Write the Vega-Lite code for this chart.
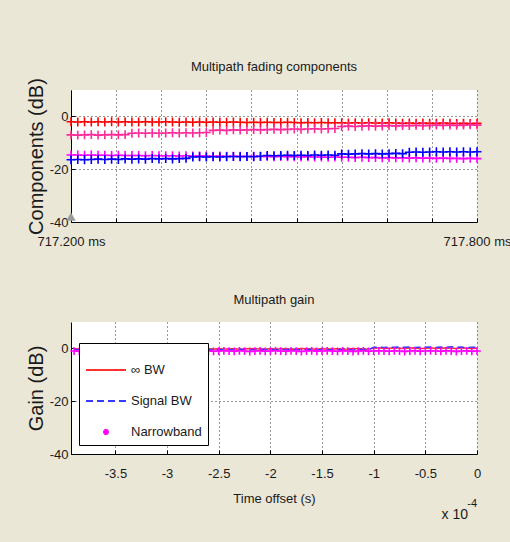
{
  "$schema": "https://vega.github.io/schema/vega-lite/v6.json",
  "background": "#EBE7D7",
  "autosize": {"type": "pad"},
  "padding": {"left": 26, "top": 60, "right": 0, "bottom": 24},
  "config": {
    "font": "Liberation Sans, Arial, sans-serif",
    "view": {"stroke": null, "fill": "white"},
    "axis": {
      "labelFont": "Liberation Sans, Arial, sans-serif",
      "labelFontSize": 13, "labelColor": "#1a1a1a",
      "titleFont": "Liberation Sans, Arial, sans-serif",
      "titleFontSize": 13, "titleFontWeight": "normal", "titleColor": "#1a1a1a",
      "domainColor": "#000", "domainWidth": 1, "tickColor": "#000", "tickSize": -4,
      "gridColor": "#000", "gridDash": [1, 3], "gridOpacity": 0.8,
      "labelOverlap": false, "labelBound": false, "labelFlush": false
    },
    "title": {"font": "Liberation Sans, Arial, sans-serif", "fontSize": 13, "fontWeight": "normal", "color": "#1a1a1a", "frame": "group"},
    "legend": {"labelFont": "Liberation Sans, Arial, sans-serif", "labelFontSize": 13, "labelColor": "#1a1a1a"}
  },
  "datasets": {
    "top": [
      {"t": 717.2, "red": -2.0, "m1": -7.0, "m2": -14.6, "blue": -16.4},
      {"t": 717.21, "red": -2.1, "m1": -7.1, "m2": -14.6, "blue": -16.3},
      {"t": 717.22, "red": -2.0, "m1": -7.0, "m2": -14.7, "blue": -16.4},
      {"t": 717.23, "red": -2.1, "m1": -6.9, "m2": -14.6, "blue": -16.3},
      {"t": 717.24, "red": -2.0, "m1": -7.1, "m2": -14.7, "blue": -16.2},
      {"t": 717.25, "red": -2.1, "m1": -7.0, "m2": -14.7, "blue": -16.3},
      {"t": 717.26, "red": -2.0, "m1": -6.9, "m2": -14.8, "blue": -16.2},
      {"t": 717.27, "red": -2.1, "m1": -7.0, "m2": -14.7, "blue": -16.3},
      {"t": 717.28, "red": -2.0, "m1": -6.9, "m2": -14.8, "blue": -16.1},
      {"t": 717.29, "red": -2.1, "m1": -6.4, "m2": -14.8, "blue": -16.2},
      {"t": 717.3, "red": -2.1, "m1": -6.3, "m2": -14.8, "blue": -16.1},
      {"t": 717.31, "red": -2.0, "m1": -6.4, "m2": -14.9, "blue": -16.2},
      {"t": 717.32, "red": -2.1, "m1": -6.3, "m2": -14.8, "blue": -16.0},
      {"t": 717.33, "red": -2.1, "m1": -6.4, "m2": -14.9, "blue": -16.1},
      {"t": 717.34, "red": -2.0, "m1": -6.3, "m2": -14.9, "blue": -16.0},
      {"t": 717.35, "red": -2.1, "m1": -6.2, "m2": -14.9, "blue": -16.1},
      {"t": 717.36, "red": -2.2, "m1": -6.3, "m2": -15.0, "blue": -16.0},
      {"t": 717.37, "red": -2.1, "m1": -6.2, "m2": -14.9, "blue": -15.9},
      {"t": 717.38, "red": -2.2, "m1": -6.3, "m2": -15.0, "blue": -15.4},
      {"t": 717.39, "red": -2.1, "m1": -6.2, "m2": -15.0, "blue": -15.3},
      {"t": 717.4, "red": -2.2, "m1": -6.1, "m2": -15.0, "blue": -15.4},
      {"t": 717.41, "red": -2.1, "m1": -5.3, "m2": -15.1, "blue": -15.3},
      {"t": 717.42, "red": -2.2, "m1": -5.2, "m2": -15.0, "blue": -15.4},
      {"t": 717.43, "red": -2.2, "m1": -5.3, "m2": -15.1, "blue": -15.3},
      {"t": 717.44, "red": -2.1, "m1": -5.1, "m2": -15.1, "blue": -15.2},
      {"t": 717.45, "red": -2.2, "m1": -5.2, "m2": -15.1, "blue": -15.3},
      {"t": 717.46, "red": -2.3, "m1": -5.1, "m2": -15.2, "blue": -15.2},
      {"t": 717.47, "red": -2.2, "m1": -5.0, "m2": -15.1, "blue": -15.3},
      {"t": 717.48, "red": -2.3, "m1": -5.1, "m2": -15.2, "blue": -15.1},
      {"t": 717.49, "red": -2.2, "m1": -5.0, "m2": -15.2, "blue": -14.8},
      {"t": 717.5, "red": -2.3, "m1": -4.9, "m2": -15.3, "blue": -14.9},
      {"t": 717.51, "red": -2.3, "m1": -5.0, "m2": -15.2, "blue": -14.8},
      {"t": 717.52, "red": -2.2, "m1": -4.9, "m2": -15.3, "blue": -14.7},
      {"t": 717.53, "red": -2.3, "m1": -4.8, "m2": -15.3, "blue": -14.8},
      {"t": 717.54, "red": -2.4, "m1": -4.9, "m2": -15.4, "blue": -14.7},
      {"t": 717.55, "red": -2.3, "m1": -4.8, "m2": -15.3, "blue": -14.8},
      {"t": 717.56, "red": -2.4, "m1": -4.7, "m2": -15.4, "blue": -14.6},
      {"t": 717.57, "red": -2.3, "m1": -4.8, "m2": -15.4, "blue": -14.7},
      {"t": 717.58, "red": -2.4, "m1": -4.7, "m2": -15.5, "blue": -14.6},
      {"t": 717.59, "red": -2.4, "m1": -4.6, "m2": -15.4, "blue": -14.7},
      {"t": 717.6, "red": -2.4, "m1": -3.8, "m2": -15.5, "blue": -14.2},
      {"t": 717.61, "red": -2.5, "m1": -3.7, "m2": -15.5, "blue": -14.3},
      {"t": 717.62, "red": -2.4, "m1": -3.8, "m2": -15.6, "blue": -14.2},
      {"t": 717.63, "red": -2.5, "m1": -3.7, "m2": -15.5, "blue": -14.1},
      {"t": 717.64, "red": -2.4, "m1": -3.6, "m2": -15.6, "blue": -14.2},
      {"t": 717.65, "red": -2.5, "m1": -3.7, "m2": -15.6, "blue": -14.1},
      {"t": 717.66, "red": -2.5, "m1": -3.6, "m2": -15.7, "blue": -14.2},
      {"t": 717.67, "red": -2.4, "m1": -3.5, "m2": -15.6, "blue": -14.1},
      {"t": 717.68, "red": -2.5, "m1": -3.6, "m2": -15.7, "blue": -14.0},
      {"t": 717.69, "red": -2.6, "m1": -3.5, "m2": -15.7, "blue": -14.1},
      {"t": 717.7, "red": -2.5, "m1": -3.5, "m2": -15.8, "blue": -13.6},
      {"t": 717.71, "red": -2.6, "m1": -3.4, "m2": -15.7, "blue": -13.5},
      {"t": 717.72, "red": -2.5, "m1": -3.5, "m2": -15.8, "blue": -13.6},
      {"t": 717.73, "red": -2.6, "m1": -3.4, "m2": -15.8, "blue": -13.5},
      {"t": 717.74, "red": -2.6, "m1": -3.3, "m2": -15.9, "blue": -13.4},
      {"t": 717.75, "red": -2.5, "m1": -3.4, "m2": -15.8, "blue": -13.5},
      {"t": 717.76, "red": -2.6, "m1": -3.3, "m2": -15.9, "blue": -13.4},
      {"t": 717.77, "red": -2.7, "m1": -3.4, "m2": -15.9, "blue": -13.5},
      {"t": 717.78, "red": -2.6, "m1": -3.3, "m2": -16.0, "blue": -13.4},
      {"t": 717.79, "red": -2.7, "m1": -3.2, "m2": -15.9, "blue": -13.5},
      {"t": 717.8, "red": -2.6, "m1": -3.3, "m2": -16.0, "blue": -13.4}
    ],
    "bottom": [
      {"x": -3.90, "∞ BW": -0.2, "Signal BW": -0.4, "Narrowband": -1.0},
      {"x": -3.85, "∞ BW": -0.1, "Signal BW": -0.5, "Narrowband": -1.1},
      {"x": -3.80, "∞ BW": -0.3, "Signal BW": -0.3, "Narrowband": -0.9},
      {"x": -3.75, "∞ BW": -0.2, "Signal BW": -0.4, "Narrowband": -1.0},
      {"x": -3.70, "∞ BW": 0.0, "Signal BW": -0.6, "Narrowband": -1.2},
      {"x": -3.65, "∞ BW": -0.1, "Signal BW": -0.4, "Narrowband": -1.0},
      {"x": -3.60, "∞ BW": -0.2, "Signal BW": -0.3, "Narrowband": -0.9},
      {"x": -3.55, "∞ BW": -0.3, "Signal BW": -0.5, "Narrowband": -1.1},
      {"x": -3.50, "∞ BW": -0.1, "Signal BW": -0.4, "Narrowband": -1.0},
      {"x": -3.45, "∞ BW": -0.2, "Signal BW": -0.5, "Narrowband": -0.9},
      {"x": -3.40, "∞ BW": -0.2, "Signal BW": -0.4, "Narrowband": -1.0},
      {"x": -3.35, "∞ BW": -0.1, "Signal BW": -0.5, "Narrowband": -1.1},
      {"x": -3.30, "∞ BW": -0.3, "Signal BW": -0.3, "Narrowband": -0.9},
      {"x": -3.25, "∞ BW": -0.2, "Signal BW": -0.4, "Narrowband": -1.0},
      {"x": -3.20, "∞ BW": 0.0, "Signal BW": -0.6, "Narrowband": -1.2},
      {"x": -3.15, "∞ BW": -0.1, "Signal BW": -0.4, "Narrowband": -1.0},
      {"x": -3.10, "∞ BW": -0.2, "Signal BW": -0.3, "Narrowband": -0.9},
      {"x": -3.05, "∞ BW": -0.3, "Signal BW": -0.5, "Narrowband": -1.1},
      {"x": -3.00, "∞ BW": -0.1, "Signal BW": -0.4, "Narrowband": -1.0},
      {"x": -2.95, "∞ BW": -0.2, "Signal BW": -0.5, "Narrowband": -0.9},
      {"x": -2.90, "∞ BW": -0.2, "Signal BW": -0.4, "Narrowband": -1.0},
      {"x": -2.85, "∞ BW": -0.1, "Signal BW": -0.5, "Narrowband": -1.1},
      {"x": -2.80, "∞ BW": -0.3, "Signal BW": -0.3, "Narrowband": -0.9},
      {"x": -2.75, "∞ BW": -0.2, "Signal BW": -0.4, "Narrowband": -1.0},
      {"x": -2.70, "∞ BW": 0.0, "Signal BW": -0.6, "Narrowband": -1.2},
      {"x": -2.65, "∞ BW": -0.1, "Signal BW": -0.4, "Narrowband": -1.0},
      {"x": -2.60, "∞ BW": -0.2, "Signal BW": -0.3, "Narrowband": -0.9},
      {"x": -2.55, "∞ BW": -0.3, "Signal BW": -0.5, "Narrowband": -1.1},
      {"x": -2.50, "∞ BW": -0.1, "Signal BW": -0.4, "Narrowband": -1.0},
      {"x": -2.45, "∞ BW": -0.2, "Signal BW": -0.5, "Narrowband": -0.9},
      {"x": -2.40, "∞ BW": -0.2, "Signal BW": -0.4, "Narrowband": -1.0},
      {"x": -2.35, "∞ BW": -0.1, "Signal BW": -0.5, "Narrowband": -1.1},
      {"x": -2.30, "∞ BW": -0.3, "Signal BW": -0.3, "Narrowband": -0.9},
      {"x": -2.25, "∞ BW": -0.2, "Signal BW": -0.4, "Narrowband": -1.0},
      {"x": -2.20, "∞ BW": 0.0, "Signal BW": -0.6, "Narrowband": -1.2},
      {"x": -2.15, "∞ BW": -0.1, "Signal BW": -0.4, "Narrowband": -1.0},
      {"x": -2.10, "∞ BW": -0.2, "Signal BW": -0.3, "Narrowband": -0.9},
      {"x": -2.05, "∞ BW": -0.3, "Signal BW": -0.5, "Narrowband": -1.1},
      {"x": -2.00, "∞ BW": -0.1, "Signal BW": -0.4, "Narrowband": -1.0},
      {"x": -1.95, "∞ BW": -0.2, "Signal BW": -0.5, "Narrowband": -0.9},
      {"x": -1.90, "∞ BW": -0.2, "Signal BW": -0.4, "Narrowband": -1.0},
      {"x": -1.85, "∞ BW": -0.1, "Signal BW": -0.5, "Narrowband": -1.1},
      {"x": -1.80, "∞ BW": -0.3, "Signal BW": -0.3, "Narrowband": -0.9},
      {"x": -1.75, "∞ BW": -0.2, "Signal BW": -0.4, "Narrowband": -1.0},
      {"x": -1.70, "∞ BW": 0.0, "Signal BW": -0.6, "Narrowband": -1.2},
      {"x": -1.65, "∞ BW": -0.1, "Signal BW": -0.4, "Narrowband": -1.0},
      {"x": -1.60, "∞ BW": -0.2, "Signal BW": -0.3, "Narrowband": -0.9},
      {"x": -1.55, "∞ BW": -0.3, "Signal BW": -0.5, "Narrowband": -1.1},
      {"x": -1.50, "∞ BW": -0.1, "Signal BW": -0.4, "Narrowband": -1.0},
      {"x": -1.45, "∞ BW": -0.2, "Signal BW": -0.5, "Narrowband": -0.9},
      {"x": -1.40, "∞ BW": -0.2, "Signal BW": -0.4, "Narrowband": -1.0},
      {"x": -1.35, "∞ BW": -0.1, "Signal BW": -0.5, "Narrowband": -1.1},
      {"x": -1.30, "∞ BW": -0.3, "Signal BW": -0.3, "Narrowband": -0.9},
      {"x": -1.25, "∞ BW": -0.2, "Signal BW": -0.4, "Narrowband": -1.0},
      {"x": -1.20, "∞ BW": 0.0, "Signal BW": -0.6, "Narrowband": -1.2},
      {"x": -1.15, "∞ BW": -0.1, "Signal BW": -0.4, "Narrowband": -1.0},
      {"x": -1.10, "∞ BW": -0.2, "Signal BW": -0.3, "Narrowband": -0.9},
      {"x": -1.05, "∞ BW": -0.3, "Signal BW": -0.5, "Narrowband": -1.1},
      {"x": -1.00, "∞ BW": 0.1, "Signal BW": 0.4, "Narrowband": -1.0},
      {"x": -0.95, "∞ BW": 0.2, "Signal BW": 0.5, "Narrowband": -0.9},
      {"x": -0.90, "∞ BW": 0.0, "Signal BW": 0.3, "Narrowband": -1.0},
      {"x": -0.85, "∞ BW": 0.1, "Signal BW": 0.5, "Narrowband": -1.1},
      {"x": -0.80, "∞ BW": 0.2, "Signal BW": 0.4, "Narrowband": -0.9},
      {"x": -0.75, "∞ BW": 0.1, "Signal BW": 0.6, "Narrowband": -1.0},
      {"x": -0.70, "∞ BW": 0.0, "Signal BW": 0.4, "Narrowband": -1.2},
      {"x": -0.65, "∞ BW": 0.2, "Signal BW": 0.5, "Narrowband": -1.0},
      {"x": -0.60, "∞ BW": 0.1, "Signal BW": 0.3, "Narrowband": -0.9},
      {"x": -0.55, "∞ BW": 0.0, "Signal BW": 0.4, "Narrowband": -1.1},
      {"x": -0.50, "∞ BW": 0.1, "Signal BW": 0.4, "Narrowband": -1.0},
      {"x": -0.45, "∞ BW": 0.2, "Signal BW": 0.5, "Narrowband": -0.9},
      {"x": -0.40, "∞ BW": 0.0, "Signal BW": 0.3, "Narrowband": -1.0},
      {"x": -0.35, "∞ BW": 0.1, "Signal BW": 0.5, "Narrowband": -1.1},
      {"x": -0.30, "∞ BW": 0.2, "Signal BW": 0.4, "Narrowband": -0.9},
      {"x": -0.25, "∞ BW": 0.1, "Signal BW": 0.6, "Narrowband": -1.0},
      {"x": -0.20, "∞ BW": 0.0, "Signal BW": 0.4, "Narrowband": -1.2},
      {"x": -0.15, "∞ BW": 0.2, "Signal BW": 0.5, "Narrowband": -1.0},
      {"x": -0.10, "∞ BW": 0.1, "Signal BW": 0.3, "Narrowband": -0.9},
      {"x": -0.05, "∞ BW": 0.0, "Signal BW": 0.4, "Narrowband": -1.1},
      {"x": 0.00, "∞ BW": 0.1, "Signal BW": 0.4, "Narrowband": -1.0}
    ]
  },
  "spacing": 100,
  "bounds": "flush",
  "resolve": {"scale": {"color": "independent", "x": "independent", "y": "independent"}, "legend": {"color": "independent"}},
  "vconcat": [
    {
      "width": 406,
      "height": 132,
      "title": {"text": "Multipath fading components", "offset": 4},
      "layer": [
        {
          "data": {"name": "top"},
          "transform": [{"fold": ["red", "m1", "m2", "blue"], "as": ["series", "dB"]}],
          "mark": {"type": "point", "shape": "M-1,0L1,0M0,-1L0,1", "filled": false, "strokeWidth": 1.6, "size": 80, "opacity": 1},
          "encoding": {
            "x": {"field": "t", "type": "quantitative", "scale": {"domain": [717.2, 717.8], "nice": false, "zero": false},
              "axis": {"title": null, "grid": true, "values": [717.2, 717.26667, 717.33333, 717.4, 717.46667, 717.53333, 717.6, 717.66667, 717.73333, 717.8],
                "labelExpr": "datum.value < 717.21 ? '717.200 ms' : (datum.value > 717.79 ? '717.800 ms' : '')", "labelPadding": 17}},
            "y": {"field": "dB", "type": "quantitative", "scale": {"domain": [-40, 10], "nice": false, "zero": false},
              "axis": {"title": "Components (dB)", "titleFontSize": 20, "titlePadding": 3, "grid": true, "values": [-40, -20, 0], "labelExpr": "'' + datum.value", "labelPadding": 7}},
            "color": {"field": "series", "type": "nominal", "scale": {"domain": ["red", "m1", "m2", "blue"], "range": ["#ff0000", "#ff2a9a", "#ff00ff", "#0000ff"]}, "legend": null}
          }
        },
        {
          "data": {"values": [{}]},
          "mark": {"type": "point", "shape": "triangle-up", "filled": true, "color": "#9a9a9a", "size": 90, "opacity": 1},
          "encoding": {"x": {"datum": 717.2}, "y": {"datum": -38}}
        }
      ]
    },
    {
      "width": 406,
      "height": 132,
      "title": {"text": "Multipath gain", "offset": 15},
      "layer": [
        {
          "data": {"name": "bottom"},
          "transform": [{"fold": ["∞ BW", "Signal BW", "Narrowband"], "as": ["series", "dB"]}, {"filter": "datum.series === '∞ BW'"}],
          "mark": {"type": "line", "strokeWidth": 1.5},
          "encoding": {
            "x": {"field": "x", "type": "quantitative", "scale": {"domain": [-3.93, 0], "nice": false, "zero": false},
              "axis": {"title": "Time offset (s)", "titlePadding": 12, "grid": true, "values": [-3.5, -3, -2.5, -2, -1.5, -1, -0.5, 0], "labelExpr": "'' + datum.value", "labelPadding": 17}},
            "y": {"field": "dB", "type": "quantitative", "scale": {"domain": [-40, 10], "nice": false, "zero": false},
              "axis": {"title": "Gain  (dB)", "titleFontSize": 20, "titlePadding": 3, "grid": true, "values": [-40, -20, 0], "labelExpr": "'' + datum.value", "labelPadding": 7}},
            "color": {"field": "series", "type": "nominal",
              "scale": {"domain": ["∞ BW", "Signal BW", "Narrowband"], "range": ["#ff3030", "#3838ff", "#ff00ff"]},
              "legend": {"orient": "none", "legendX": 8, "legendY": 21, "title": null, "fillColor": "white", "strokeColor": "#000", "padding": 6,
                "symbolType": "stroke", "symbolSize": 1600, "symbolStrokeWidth": 2, "rowPadding": 3, "labelOffset": 4, "labelFontSize": 13,
                "encode": {"symbols": {"update": {
                  "shape": {"signal": "datum.value === 'Narrowband' ? 'circle' : 'stroke'"},
                  "size": {"signal": "datum.value === 'Narrowband' ? 16 : 1600"},
                  "fill": {"signal": "datum.value === 'Narrowband' ? '#ff00ff' : 'transparent'"},
                  "strokeDash": {"signal": "datum.value === 'Signal BW' ? [7, 4] : [1, 0]"}
                }}}}
            }
          }
        },
        {
          "data": {"name": "bottom"},
          "transform": [{"fold": ["∞ BW", "Signal BW", "Narrowband"], "as": ["series", "dB"]}, {"filter": "datum.series === 'Signal BW'"}],
          "mark": {"type": "line", "strokeWidth": 1.5, "strokeDash": [7, 4]},
          "encoding": {
            "x": {"field": "x", "type": "quantitative"},
            "y": {"field": "dB", "type": "quantitative"},
            "color": {"field": "series", "type": "nominal"}
          }
        },
        {
          "data": {"name": "bottom"},
          "transform": [{"fold": ["∞ BW", "Signal BW", "Narrowband"], "as": ["series", "dB"]}, {"filter": "datum.series === 'Narrowband'"}],
          "mark": {"type": "point", "shape": "M-1,0L1,0M0,-1L0,1", "filled": false, "strokeWidth": 1.6, "size": 60, "opacity": 1},
          "encoding": {
            "x": {"field": "x", "type": "quantitative"},
            "y": {"field": "dB", "type": "quantitative"},
            "color": {"field": "series", "type": "nominal"}
          }
        },
        {
          "data": {"values": [{}]},
          "mark": {"type": "text", "text": "x 10", "align": "right", "baseline": "alphabetic", "dx": -9, "dy": 65, "fontSize": 14, "color": "#1a1a1a"},
          "encoding": {"x": {"datum": 0}, "y": {"datum": -40}}
        },
        {
          "data": {"values": [{}]},
          "mark": {"type": "text", "text": "-4", "align": "right", "baseline": "alphabetic", "dx": 0, "dy": 53, "fontSize": 11, "color": "#1a1a1a"},
          "encoding": {"x": {"datum": 0}, "y": {"datum": -40}}
        }
      ]
    }
  ]
}
